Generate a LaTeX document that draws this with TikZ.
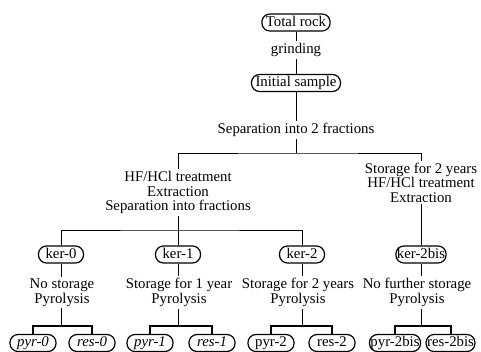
\documentclass[tikz,border=0pt]{standalone}
\usepackage{fontspec}
\setmainfont{Liberation Serif}
\usetikzlibrary{calc}

\begin{document}
\begin{tikzpicture}[x=1pt, y=-1pt]
    % page as large as the scanned chart, y grows downwards
    \useasboundingbox (0, 0) rectangle (481, 351);
    \tikzstyle{txt} = [font=\fontsize{14.8}{14.5}\selectfont, align=center, inner sep=2pt]
    \tikzstyle{pill} = [txt, draw=black, line width=1.2pt, rounded corners=8pt,
        inner xsep=4pt, inner ysep=2pt, text height=10pt, text depth=3pt]
    \tikzstyle{small pill} = [pill, inner xsep=1pt, minimum width=45pt]
    \tikzstyle{link} = [draw=black, line width=0.8pt]
    \tikzstyle{fork} = [draw=black, line width=2pt]

    % top of the chart
    \node (rock) [pill] at (296, 22.5) {Total rock};
    \node (grind) [txt] at (296, 50) {grinding};
    \node (init) [pill] at (296, 83) {Initial sample};
    \node (split) [txt] at (296, 130) {Separation into 2 fractions};
    \draw [link] (rock) -- (grind);
    \draw [link] (grind) -- (init);
    \draw [link] (init) -- (split);

    % the two fractions
    \coordinate (s1) at (296, 153);
    \node (treatL) [txt] at (178, 192.5) {HF/HCl treatment\\Extraction\\Separation into fractions};
    \node (treatR) [txt] at (421, 182.5) {Storage for 2 years\\HF/HCl treatment\\Extraction};
    \draw [link] (split) -- (s1);
    \draw [link] (treatL.north) |- (s1) -| (treatR.north);

    % kerogen nodes
    \node (ker0) [small pill] at (61, 254.5) {ker-0};
    \node (ker1) [small pill] at (178, 254.5) {ker-1};
    \node (ker2) [small pill] at (302, 254.5) {ker-2};
    \node (ker2bis) [small pill] at (421, 254.5) {ker-2bis};
    \coordinate (s2) at (178, 230);
    \draw [link] (treatL) -- (ker1);
    \draw [link] (ker0.north) |- (s2) -| (ker2.north);
    \draw [link] (treatR) -- (ker2bis);

    % storage, pyrolysis and the two products of each kerogen
    \foreach \id/\kx/\tx/\lbl/\px/\rx/\sh in {
        0/61/62/{No storage\\Pyrolysis}/33/92/\itshape,
        1/178/179/{Storage for 1 year\\Pyrolysis}/150/212/\itshape,
        2/302/298/{Storage for 2 years\\Pyrolysis}/271/332/\upshape,
        2bis/421/417/{No further storage\\Pyrolysis}/395/450.5/\upshape} {
        \node (step\id) [txt] at (\tx, 292.5) {\lbl};
        \coordinate (bar\id) at (\kx, 326);
        \node (pyr\id) [small pill, minimum width=46pt] at (\px, 343) {\sh pyr-\id};
        \node (res\id) [small pill, minimum width=46pt] at (\rx, 343) {\sh res-\id};
        \draw [link] (ker\id.south) -- (ker\id.south |- step\id.north);
        \draw [link] (bar\id |- step\id.south) -- (bar\id);
        \draw [fork] (pyr\id.north) |- (bar\id) -| (res\id.north);
    }
\end{tikzpicture}
\end{document}
